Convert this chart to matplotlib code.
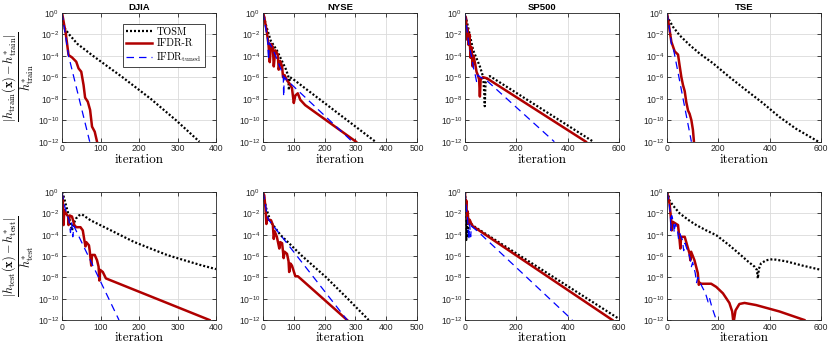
import numpy as np
import matplotlib
matplotlib.use('Agg')
import matplotlib.pyplot as plt
from matplotlib.font_manager import FontProperties
from matplotlib.ticker import FixedLocator, FuncFormatter, NullLocator

plt.rcParams['font.family'] = 'Liberation Sans'
plt.rcParams['mathtext.fontset'] = 'custom'
plt.rcParams['mathtext.rm'] = 'Liberation Sans'
plt.rcParams['mathtext.it'] = 'Liberation Sans:italic'
plt.rcParams['mathtext.bf'] = 'Liberation Sans:bold'

# values: iteration, log10 of relative error
# ---- DJIA train
djia_tr_tosm_x = [0, 8, 18, 40, 80, 157, 230, 296, 357]
djia_tr_tosm_y = [-0.7, -1.5, -2, -2.9, -4, -6, -8, -10, -12]
djia_tr_ifdr_x = [0, 10, 17, 26, 37, 43, 50, 56, 60, 67, 73, 78, 85, 91]
djia_tr_ifdr_y = [0, -2, -3.94, -4.16, -4.56, -5.18, -5.49, -6.73, -7.9, -8.28, -9.05, -10.6, -11.07, -12]
djia_tr_tuned_x = [0, 17, 72]
djia_tr_tuned_y = [0, -4, -12]
# ---- DJIA test
djia_te_tosm_x = [0, 5, 10, 16, 22, 26, 30, 36, 44, 52, 74, 126, 187, 230, 274, 317, 361, 400]
djia_te_tosm_y = [0, -0.5, -1.2, -2.0, -3.0, -3.6, -3.0, -2.5, -2.2, -2.1, -2.65, -3.58, -4.68, -5.3, -5.92, -6.39, -6.86, -7.23]
djia_te_ifdr_x = [0, 2, 4, 6, 10, 16, 17, 20, 26, 32, 37, 48, 54, 58, 61, 63, 70, 72, 76, 78, 85, 91, 95, 97, 99, 106, 110, 114, 383]
djia_te_ifdr_y = [-0.3, -0.62, -3.1, -1.7, -2.0, -2.3, -3.1, -2.2, -2.3, -3.1, -3.3, -3.3, -3.6, -4.5, -5.1, -4.7, -5.0, -5.5, -6.9, -5.9, -5.9, -6.4, -7.0, -8.3, -7.3, -7.5, -7.8, -8.1, -12]
djia_te_tuned_x = [0, 6, 12, 18, 22, 25, 28, 31, 148]
djia_te_tuned_y = [0, -1.2, -2.0, -2.6, -3.8, -2.9, -4.2, -3.2, -12]
# ---- NYSE train
nyse_tr_tosm_x = [0, 10, 25, 45, 60, 75, 82, 84, 87, 94, 365]
nyse_tr_tosm_y = [0, -1.2, -2.6, -3.5, -4.4, -5.3, -5.9, -7.2, -6.0, -6.1, -12]
nyse_tr_ifdr_x = [0, 4, 13, 18, 22, 26, 32, 35, 40, 48, 51, 56, 62, 65, 70, 78, 86, 94, 100, 105, 113, 121, 137, 302]
nyse_tr_ifdr_y = [0, -0.4, -1.9, -3.0, -4.6, -2.9, -3.2, -5.0, -3.5, -3.9, -5.3, -4.5, -5.0, -6.0, -5.8, -6.3, -6.6, -7.0, -8.4, -7.7, -7.5, -8.1, -8.6, -12]
nyse_tr_tuned_x = [0, 8, 15, 18, 21, 30, 45, 60, 66, 67, 69, 75, 290]
nyse_tr_tuned_y = [0, -1.3, -2.5, -4.4, -2.8, -3.3, -4.3, -5.4, -6.0, -7.8, -6.0, -6.2, -12]
# ---- NYSE test
nyse_te_tosm_x = [0, 10, 25, 56, 127, 205, 275, 343]
nyse_te_tosm_y = [0, -1.5, -2.8, -4, -6, -8, -10, -12]
nyse_te_ifdr_x = [0, 4, 8, 11, 14, 18, 26, 32, 35, 38, 45, 53, 56, 62, 65, 67, 70, 78, 83, 85, 89, 94, 105, 113, 121, 273]
nyse_te_ifdr_y = [-0.1, -0.3, -1.5, -3.0, -2.4, -2.6, -2.65, -3.1, -4.4, -3.7, -4.2, -5.3, -4.7, -4.8, -5.6, -6.2, -5.6, -5.8, -6.5, -7.5, -6.7, -6.9, -7.9, -7.9, -8.1, -12]
nyse_te_tuned_x = [0, 8, 14, 18, 273]
nyse_te_tuned_y = [0, -1.2, -2.3, -2.6, -12]
# ---- SP500 train
sp_tr_tosm_x = [0, 4, 32, 58, 71, 75, 77, 80, 90, 97, 500]
sp_tr_tosm_y = [-0.3, -0.5, -3.5, -5.0, -6.0, -7.5, -8.7, -6.5, -6.0, -5.9, -12]
sp_tr_ifdr_x = [0, 4, 8, 10, 14, 17, 22, 25, 30, 33, 40, 45, 50, 55, 58, 61, 70, 85, 471]
sp_tr_ifdr_y = [-0.3, -0.5, -2.5, -1.5, -3.0, -2.0, -4.2, -3.2, -5.0, -4.0, -4.8, -5.5, -5.8, -6.2, -7.8, -6.2, -6.0, -6.1, -12]
sp_tr_tuned_x = [0, 5, 10, 15, 20, 25, 30, 35, 40, 45, 50, 60, 84, 348]
sp_tr_tuned_y = [0, -1, -2.0, -3.0, -3.5, -4.0, -4.7, -5.4, -5.8, -6.4, -5.8, -6.0, -6.3, -12]
# ---- SP500 test
sp_te_tosm_x = [0, 3, 5, 8, 12, 15, 25, 40, 594]
sp_te_tosm_y = [0, -1.5, -4.5, -2.0, -4.3, -2.5, -3.0, -3.3, -11.8]
sp_te_ifdr_x = [0, 3, 5, 8, 10, 14, 18, 25, 30, 574]
sp_te_ifdr_y = [-0.1, -1.5, -0.8, -2.5, -1.8, -3.0, -2.6, -3.0, -3.2, -12]
sp_te_tuned_x = [0, 5, 10, 15, 18, 22, 25, 30, 50, 418]
sp_te_tuned_y = [0, -1.5, -2.5, -4.5, -3.0, -4.2, -3.2, -3.3, -3.7, -12]
# ---- TSE train
tse_tr_tosm_x = [0, 4, 23, 49, 88, 127, 179, 244, 308, 373, 438, 503, 590]
tse_tr_tosm_y = [-0.3, -0.5, -1.3, -2.1, -3.0, -3.8, -4.7, -6.0, -7.2, -8.4, -9.7, -10.8, -12]
tse_tr_ifdr_x = [0, 10, 17, 30, 43, 49, 56, 62, 69, 75, 82, 88, 95, 101, 105]
tse_tr_ifdr_y = [0, -1.6, -2.7, -3.6, -3.9, -4.9, -6.0, -6.7, -7.3, -8.3, -9.1, -9.4, -10.0, -10.9, -12]
tse_tr_tuned_x = [0, 10, 17, 23, 95]
tse_tr_tuned_y = [0, -1.5, -2.9, -3.1, -12]
# ---- TSE test
tse_te_tosm_x = [0, 4, 10, 23, 49, 88, 114, 153, 192, 243, 282, 315, 341, 350, 354, 358, 366, 386, 412, 464, 528, 600]
tse_te_tosm_y = [0, -0.15, -0.8, -1.25, -2.0, -2.7, -3.1, -3.6, -4.05, -5.0, -5.8, -6.5, -7.0, -7.3, -8.1, -7.2, -6.7, -6.4, -6.3, -6.5, -6.9, -7.3]
tse_te_ifdr_x = [0, 10, 16, 18, 23, 43, 49, 52, 55, 69, 75, 88, 91, 94, 107, 120, 124, 127, 133, 150, 172, 192, 218, 243, 254, 259, 267, 282, 302, 347, 438, 535]
tse_te_ifdr_y = [0, -1.1, -2.6, -3.6, -2.8, -3.1, -4.5, -5.3, -4.2, -4.2, -4.7, -5.8, -6.4, -5.6, -6.4, -7.6, -8.7, -8.5, -8.6, -8.6, -8.6, -8.9, -9.5, -10.4, -11.2, -12.3, -11.1, -10.5, -10.4, -10.6, -11.2, -12]
tse_te_tuned_x = [0, 8, 13, 15, 18, 25, 28, 32, 40, 45, 50, 60, 65, 70, 80, 90, 95, 100, 110, 115, 120, 135, 150, 160, 165, 175, 185, 192]
tse_te_tuned_y = [0, -1, -2.0, -3.6, -2.2, -2.8, -3.8, -3.0, -3.4, -4.4, -3.9, -4.5, -5.5, -4.8, -5.5, -6.2, -7.0, -6.6, -7.6, -8.5, -8.0, -8.8, -9.5, -10.3, -9.9, -10.8, -11.5, -12]

titles = ['DJIA', 'NYSE', 'SP500', 'TSE']
xmax = [400, 500, 600, 600]
xtick_step = [100, 100, 200, 200]
series_labels = ['TOSM', 'IFDR-R', r'IFDR$_{\rm tuned}$']

panels = [
    [(djia_tr_tosm_x, djia_tr_tosm_y), (djia_tr_ifdr_x, djia_tr_ifdr_y), (djia_tr_tuned_x, djia_tr_tuned_y)],
    [(nyse_tr_tosm_x, nyse_tr_tosm_y), (nyse_tr_ifdr_x, nyse_tr_ifdr_y), (nyse_tr_tuned_x, nyse_tr_tuned_y)],
    [(sp_tr_tosm_x, sp_tr_tosm_y), (sp_tr_ifdr_x, sp_tr_ifdr_y), (sp_tr_tuned_x, sp_tr_tuned_y)],
    [(tse_tr_tosm_x, tse_tr_tosm_y), (tse_tr_ifdr_x, tse_tr_ifdr_y), (tse_tr_tuned_x, tse_tr_tuned_y)],
    [(djia_te_tosm_x, djia_te_tosm_y), (djia_te_ifdr_x, djia_te_ifdr_y), (djia_te_tuned_x, djia_te_tuned_y)],
    [(nyse_te_tosm_x, nyse_te_tosm_y), (nyse_te_ifdr_x, nyse_te_ifdr_y), (nyse_te_tuned_x, nyse_te_tuned_y)],
    [(sp_te_tosm_x, sp_te_tosm_y), (sp_te_ifdr_x, sp_te_ifdr_y), (sp_te_tuned_x, sp_te_tuned_y)],
    [(tse_te_tosm_x, tse_te_tosm_y), (tse_te_ifdr_x, tse_te_ifdr_y), (tse_te_tuned_x, tse_te_tuned_y)],
]

styles = [
    dict(color='black', lw=1.6, linestyle=(0, (0.9, 0.9))),
    dict(color='#b00000', lw=1.8, linestyle='-'),
    dict(color='blue', lw=0.9, linestyle=(0, (6, 4))),
]

fig = plt.figure(figsize=(8.3, 3.5), dpi=100)
lefts = [62, 263, 465, 667]
W = 830.0
H = 350.0
row_box = [(12.7, 141.7), (192, 320)]

ylabels = [r'$\dfrac{|h_{\rm train}(\mathbf{x})-h^{*}_{\rm train}|}{h^{*}_{\rm train}}$',
           r'$\dfrac{|h_{\rm test}(\mathbf{x})-h^{*}_{\rm test}|}{h^{*}_{\rm test}}$']

fmt = FuncFormatter(lambda v, p: r'$10^{%d}$' % int(round(np.log10(v))))

for k, data in enumerate(panels):
    r, c = divmod(k, 4)
    top, bot = row_box[r]
    ax = fig.add_axes([lefts[c] / W, 1 - bot / H, 154 / W, (bot - top) / H])
    for (xs, ys), st, lab in zip(data, styles, series_labels):
        ax.plot(xs, 10.0 ** np.array(ys), label=lab, **st)
    ax.set_yscale('log')
    ax.set_ylim(1e-12, 1)
    ax.set_xlim(0, xmax[c])
    ax.xaxis.set_major_locator(FixedLocator(np.arange(0, xmax[c] + 1, xtick_step[c])))
    ax.yaxis.set_major_locator(FixedLocator([10.0 ** e for e in range(-12, 1, 2)]))
    ax.yaxis.set_minor_locator(NullLocator())
    ax.yaxis.set_major_formatter(fmt)
    ax.grid(True, color='0.86', lw=0.6)
    ax.set_axisbelow(True)
    ax.tick_params(direction='in', top=True, right=True, length=3, width=0.6,
                   colors='0.15', labelsize=6.2, pad=2)
    for sp in ax.spines.values():
        sp.set_linewidth(0.6)
        sp.set_color('0.15')
    ax.set_xlabel('iteration', fontfamily='cmr10', fontsize=9.5, labelpad=0)
    if r == 0:
        ax.set_title(titles[c], fontweight='bold', fontsize=6.8, pad=2)
    if c == 0:
        ax.set_ylabel(ylabels[r], fontsize=8.8, math_fontfamily='cm', labelpad=1)
    if k == 0:
        leg = ax.legend(loc='upper right', bbox_to_anchor=(0.96, 0.95),
                        prop=FontProperties(family='cmr10', size=7.3, math_fontfamily='cm'),
                        handlelength=2.6, borderpad=0.3, labelspacing=0.2,
                        handletextpad=0.4, fancybox=False, framealpha=1)
        leg.get_frame().set_edgecolor('0.15')
        leg.get_frame().set_linewidth(0.6)

fig.savefig('out.png', dpi=100)
